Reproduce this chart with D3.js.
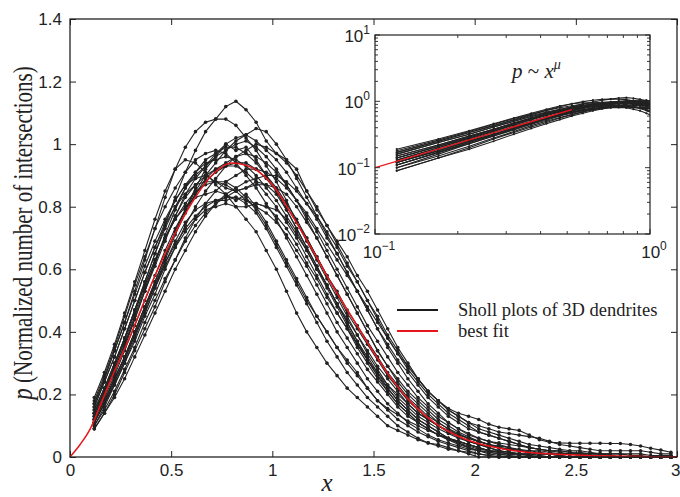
<!DOCTYPE html>
<html>
<head>
<meta charset="utf-8">
<script src="https://cdn.jsdelivr.net/npm/d3@7"></script>
<style>
  body { margin: 0; background: #fff; }
  .num { font-family: "Liberation Sans", Arial, sans-serif; font-size: 17px; fill: #222; }
  .serif { font-family: "Liberation Serif", "Times New Roman", serif; fill: #222; }
</style>
</head>
<body>
<svg id="chart" width="680" height="497"></svg>
<script>
// shared radial grid of the Sholl samples (normalized distance)
const shollX = [0.12, 0.17, 0.22, 0.27, 0.32, 0.37, 0.42, 0.47, 0.52, 0.57,
  0.62, 0.67, 0.72, 0.77, 0.82, 0.87, 0.92, 0.97, 1.02, 1.07,
  1.12, 1.17, 1.22, 1.27, 1.32, 1.37, 1.42, 1.47, 1.52, 1.57,
  1.62, 1.67, 1.72, 1.77, 1.82, 1.87, 1.92, 1.97, 2.02, 2.07,
  2.12, 2.17, 2.22, 2.27, 2.32, 2.37, 2.42, 2.47, 2.52, 2.57,
  2.62, 2.67, 2.72, 2.77, 2.82, 2.87, 2.92, 2.97];

// normalized number of intersections, one row per dendrite
const dendrites = [
  [.15,.22,.30,.38,.47,.56,.65,.74,.83,.91, .98,1.04,1.08,1.12,1.137,1.11,1.07,1.01,.97,.95, .92,.85,.79,.74,.69,.64,.58,.53,.47,.41, .35,.30,.25,.21,.18,.155,.14,.13,.12,.105, .095,.09,.085,.07,.055,.047,.045,.044,.044,.044, .044,.043,.043,.04,.035,.028,.022,.015],
  [.19,.27,.36,.46,.56,.66,.76,.85,.92,.95, .94,.91,.87,.84,.80,.76,.72,.66,.60,.53, .46,.40,.35,.30,.26,.22,.19,.16,.13,.10, .085,.07,.055,.045,.04,.03,.02,.01,0,0, 0,0,0,0,0,0,0,0,0,0, 0,0,0,0,0,0,0,0],
  [.14,.21,.29,.37,.46,.55,.63,.70,.76,.81, .85,.87,.88,.88,.86,.83,.79,.74,.68,.62, .56,.50,.45,.40,.35,.31,.27,.22,.18,.155, .135,.115,.10,.085,.072,.06,.045,.03,.02,.01, .005,0,0,0,0,0,0,0,0,0, 0,0,0,0,0,0,0,0],
  [.17,.25,.34,.43,.53,.63,.73,.83,.92,.99, 1.04,1.07,1.08,1.08,1.06,1.02,.98,.93,.88,.82, .75,.69,.63,.57,.51,.45,.39,.33,.28,.23, .19,.16,.13,.11,.09,.075,.06,.05,.04,.03, .02,.015,.01,.01,.005,0,0,0,0,0, 0,0,0,0,0,0,0,0],
  [.12,.18,.25,.32,.40,.48,.56,.64,.72,.79, .86,.92,.96,1.0,1.02,1.03,1.01,.98,.95,.91, .86,.81,.76,.70,.65,.59,.53,.47,.41,.36, .31,.27,.23,.19,.16,.13,.11,.09,.08,.07, .06,.05,.04,.03,.025,.02,.015,.01,.01,.01, .01,.005,0,0,0,0,0,0],
  [.13,.20,.27,.35,.44,.53,.62,.71,.79,.86, .90,.93,.97,1.0,.98,.99,.95,.90,.85,.79, .73,.67,.61,.55,.49,.43,.37,.31,.26,.22, .18,.15,.12,.10,.08,.06,.05,.04,.03,.02, .015,.01,.01,.005,0,0,0,0,0,0, 0,0,0,0,0,0,0,0],
  [.10,.16,.23,.30,.38,.46,.54,.62,.69,.75, .79,.81,.82,.82,.83,.82,.81,.80,.79,.76, .71,.66,.60,.55,.49,.44,.39,.34,.29,.25, .21,.17,.14,.12,.10,.08,.065,.05,.04,.03, .02,.015,.01,.01,.005,0,0,0,0,0, 0,0,0,0,0,0,0,0],
  [.11,.17,.24,.31,.39,.46,.54,.61,.67,.72, .76,.79,.80,.81,.80,.80,.81,.80,.77,.73, .68,.62,.57,.51,.46,.41,.36,.31,.27,.23, .20,.17,.14,.12,.10,.085,.07,.06,.05,.04, .03,.025,.02,.02,.015,.01,.01,.01,.005,0, 0,0,0,0,0,0,0,0],
  [.16,.24,.32,.41,.50,.59,.67,.75,.82,.87, .91,.94,.95,.96,.95,.93,.90,.86,.82,.77, .72,.66,.60,.54,.48,.42,.36,.31,.26,.21, .17,.14,.11,.09,.07,.055,.045,.035,.025,.02, .015,.01,.01,.005,0,0,0,0,0,0, 0,0,0,0,0,0,0,0],
  [.09,.14,.20,.27,.34,.41,.48,.56,.63,.70, .76,.81,.85,.88,.90,.92,.92,.91,.89,.86, .82,.78,.73,.68,.63,.58,.53,.48,.43,.38, .33,.29,.25,.21,.18,.15,.13,.11,.10,.09, .08,.075,.07,.065,.06,.05,.04,.035,.03,.025, .02,.02,.02,.02,.02,.015,.01,.01],
  [.14,.21,.28,.36,.44,.53,.61,.69,.77,.84, .89,.93,.96,.98,1.0,1.01,.99,.96,.92,.87, .82,.76,.70,.64,.58,.52,.46,.40,.34,.29, .24,.20,.17,.14,.11,.09,.075,.06,.05,.04, .03,.025,.02,.015,.01,.01,.005,0,0,0, 0,0,0,0,0,0,0,0],
  [.18,.26,.35,.45,.55,.64,.73,.80,.86,.91, .95,.97,.98,.97,.94,.90,.86,.81,.76,.70, .64,.58,.52,.46,.40,.35,.30,.25,.21,.17, .14,.11,.09,.07,.055,.045,.035,.025,.02,.015, .01,.005,0,0,0,0,0,0,0,0, 0,0,0,0,0,0,0,0],
  [.10,.15,.21,.28,.35,.43,.50,.57,.63,.69, .74,.78,.81,.83,.85,.86,.87,.87,.86,.84, .80,.75,.70,.64,.58,.52,.46,.40,.34,.29, .25,.21,.18,.15,.12,.10,.08,.065,.05,.04, .035,.03,.025,.02,.02,.015,.01,.01,.01,.005, 0,0,0,0,0,0,0,0],
  [.12,.19,.26,.34,.42,.50,.58,.66,.73,.79, .84,.88,.91,.93,.94,.94,.92,.89,.85,.80, .75,.70,.64,.58,.53,.47,.42,.37,.32,.27, .23,.19,.16,.13,.11,.09,.07,.06,.05,.04, .03,.02,.02,.015,.01,.01,.005,0,0,0, 0,0,0,0,0,0,0,0],
  [.15,.22,.30,.38,.47,.55,.63,.70,.76,.80, .83,.84,.85,.84,.82,.84,.80,.75,.69,.63, .57,.51,.45,.40,.35,.30,.26,.22,.18,.15, .12,.10,.08,.065,.05,.04,.03,.02,.01,.005, 0,0,0,0,0,0,0,0,0,0, 0,0,0,0,0,0,0,0],
  [.11,.17,.23,.30,.37,.45,.52,.60,.67,.74, .80,.85,.89,.93,.96,.98,1.0,.99,.97,.94, .90,.85,.80,.74,.68,.62,.56,.50,.44,.38, .33,.28,.24,.20,.17,.14,.12,.10,.08,.07, .06,.05,.04,.03,.025,.02,.02,.015,.01,.01, .01,.005,0,0,0,0,0,0],
  [.17,.25,.34,.43,.52,.61,.69,.76,.82,.87, .89,.90,.88,.86,.85,.86,.88,.87,.84,.79, .73,.67,.61,.55,.49,.43,.37,.32,.27,.22, .18,.15,.12,.10,.08,.06,.05,.04,.03,.02, .015,.01,.005,0,0,0,0,0,0,0, 0,0,0,0,0,0,0,0],
  [.13,.20,.28,.36,.45,.54,.62,.70,.77,.83, .87,.90,.92,.93,.93,.91,.88,.84,.80,.75, .70,.64,.58,.52,.46,.41,.35,.30,.25,.21, .17,.14,.11,.09,.07,.06,.05,.04,.03,.02, .02,.015,.01,.005,0,0,0,0,0,0, 0,0,0,0,0,0,0,0],
  [.12,.18,.25,.32,.40,.48,.56,.64,.72,.79, .85,.90,.94,.98,1.01,1.03,1.05,1.04,1.0,.95, .89,.83,.77,.71,.65,.59,.53,.47,.41,.35, .30,.25,.21,.17,.14,.11,.09,.07,.06,.05, .04,.03,.02,.015,.01,.01,.005,0,0,0, 0,0,0,0,0,0,0,0],
  [.12,.18,.25,.32,.40,.48,.55,.62,.68,.73, .77,.80,.82,.83,.83,.81,.78,.73,.67,.61, .55,.49,.43,.37,.32,.27,.23,.19,.16,.13, .10,.08,.06,.045,.035,.025,.02,.015,.01,.005, 0,0,0,0,0,0,0,0,0,0, 0,0,0,0,0,0,0,0],
  [.11,.17,.24,.31,.39,.47,.55,.63,.71,.78, .84,.89,.92,.94,.96,.97,.96,.94,.91,.87, .82,.77,.72,.66,.60,.54,.48,.42,.37,.32, .27,.23,.19,.16,.13,.11,.09,.075,.06,.05, .045,.04,.035,.03,.025,.02,.02,.015,.015,.01, .01,.01,.01,.005,.005,0,0,0],
  [.16,.24,.32,.41,.50,.59,.67,.74,.80,.84, .87,.88,.88,.87,.85,.82,.80,.78,.75,.71, .66,.61,.55,.49,.43,.38,.33,.28,.24,.20, .16,.13,.11,.09,.07,.055,.04,.03,.02,.015, .01,.005,0,0,0,0,0,0,0,0, 0,0,0,0,0,0,0,0],
  [.14,.21,.29,.38,.47,.56,.65,.73,.80,.86, .91,.95,.97,.99,.99,.97,.94,.90,.86,.81, .76,.70,.64,.58,.52,.46,.41,.36,.31,.26, .22,.18,.15,.12,.10,.08,.065,.05,.04,.035, .03,.025,.02,.015,.01,.01,.005,0,0,0, 0,0,0,0,0,0,0,0],
  [.09,.14,.19,.25,.32,.39,.46,.53,.60,.66, .72,.77,.81,.84,.86,.88,.89,.90,.90,.88, .85,.81,.77,.72,.67,.61,.56,.50,.45,.39, .34,.29,.25,.21,.18,.15,.13,.11,.09,.08, .07,.06,.05,.04,.035,.03,.025,.02,.02,.015, .01,.01,.01,.01,.01,.005,.005,.005]
];

// best fit curve
const fitX = [0, 0.05, 0.1, 0.15, 0.2, 0.3, 0.4, 0.5, 0.6, 0.7, 0.8, 0.9, 1.0, 1.1, 1.2, 1.3, 1.4, 1.5,
  1.6, 1.7, 1.8, 1.9, 2.0, 2.1, 2.2, 2.3, 2.4, 2.5, 2.6, 2.7, 2.8, 2.9, 3.0];
const fitP = [0, 0.04, 0.09, 0.165, 0.245, 0.39, 0.55, 0.69, 0.81, 0.90, 0.94, 0.925, 0.87, 0.77, 0.66, 0.545, 0.44, 0.335,
  0.24, 0.165, 0.11, 0.072, 0.047, 0.031, 0.02, 0.013, 0.009, 0.006, 0.004, 0.003, 0.002, 0.001, 0.001];

// power-law fit shown in the log-log inset
const insetFitX = [0.1, 0.52];
const insetFitP = [0.1, 0.75];

const xTicks = [0, 0.5, 1, 1.5, 2, 2.5, 3];
const yTicks = [0, 0.2, 0.4, 0.6, 0.8, 1, 1.2, 1.4];
const insetXTicks = [0.1, 1];
const insetYTicks = [0.01, 0.1, 1, 10];
const insetExp = { 0.01: "\u22122", 0.1: "\u22121", 1: "0", 10: "1" };
const legendItems = ["Sholl plots of 3D dendrites", "best fit"];
const legendColors = ["#1a1a1a", "#e8161c"];

const BLACK = "#222";
const RED = "#e8161c";

const svg = d3.select("#chart");
const W = 680, H = 497;
const m = { left: 70, right: 3, top: 19, bottom: 40 };

const x = d3.scaleLinear().domain([0, 3]).range([m.left, W - m.right]);
const y = d3.scaleLinear().domain([0, 1.4]).range([H - m.bottom, m.top]);

const fmt = d3.format("~g");

// ---- main axes (matlab style ticks pointing inward)
const gx = svg.append("g").attr("transform", `translate(0,${y(0)})`)
  .call(d3.axisBottom(x).tickValues(xTicks).tickFormat(fmt).tickSizeInner(-6).tickSizeOuter(0).tickPadding(7));
const gxTop = svg.append("g").attr("transform", `translate(0,${y(1.4)})`)
  .call(d3.axisTop(x).tickValues(xTicks).tickFormat("").tickSizeInner(-6).tickSizeOuter(0));
const gy = svg.append("g").attr("transform", `translate(${x(0)},0)`)
  .call(d3.axisLeft(y).tickValues(yTicks).tickFormat(fmt).tickSizeInner(-6).tickSizeOuter(0).tickPadding(8));
const gyRight = svg.append("g").attr("transform", `translate(${x(3)},0)`)
  .call(d3.axisRight(y).tickValues(yTicks).tickFormat("").tickSizeInner(-6).tickSizeOuter(0));

[gx, gxTop, gy, gyRight].forEach(g => {
  g.select(".domain").remove();
  g.selectAll(".tick line").attr("stroke", BLACK).attr("stroke-width", 1);
  g.selectAll("text").attr("class", "num").attr("font-family", null).attr("font-size", null);
});
// last x label sits against the page edge
gx.selectAll(".tick text").filter(d => d === 3).attr("text-anchor", "end").attr("x", 3);

// ---- sholl curves
const line = d3.line().x(d => x(d[0])).y(d => y(d[1]));
const curves = svg.append("g");
dendrites.forEach(vals => {
  const pts = vals.map((v, i) => [shollX[i], v]);
  curves.append("path").attr("d", line(pts))
    .attr("fill", "none").attr("stroke", BLACK).attr("stroke-width", 1.1);
  curves.selectAll(null).data(pts).join("circle")
    .attr("cx", d => x(d[0])).attr("cy", d => y(d[1])).attr("r", 1.8)
    .attr("fill", BLACK);
});

svg.append("path")
  .attr("d", d3.line().curve(d3.curveMonotoneX).x(d => x(d[0])).y(d => y(d[1]))(fitX.map((v, i) => [v, fitP[i]])))
  .attr("fill", "none").attr("stroke", RED).attr("stroke-width", 1.5);

// frame
svg.append("rect").attr("x", x(0)).attr("y", y(1.4))
  .attr("width", x(3) - x(0)).attr("height", y(0) - y(1.4))
  .attr("fill", "none").attr("stroke", BLACK).attr("stroke-width", 1.3);

// axis titles
svg.append("text").attr("class", "serif")
  .attr("x", x(1.27)).attr("y", 491).attr("text-anchor", "middle")
  .attr("font-size", 25).attr("font-style", "italic").text("x");

const yl = svg.append("text").attr("class", "serif")
  .attr("transform", "translate(32,233) rotate(-90) scale(1,1.25)")
  .attr("text-anchor", "middle").attr("font-size", 21);
yl.append("tspan").attr("font-style", "italic").attr("font-size", 23).text("p");
yl.append("tspan").text(" (Normalized number of intersections)");

// ---- legend
const lg = svg.append("g");
legendItems.forEach((label, i) => {
  const ly = 310 + i * 21;
  lg.append("line").attr("x1", 397).attr("x2", 438).attr("y1", ly).attr("y2", ly)
    .attr("stroke", legendColors[i]).attr("stroke-width", 2.2);
  lg.append("text").attr("class", "serif").attr("x", 458).attr("y", ly + 6)
    .attr("font-size", 18.5).text(label);
});

// ---- inset (log-log)
const ix = d3.scaleLog().domain([0.1, 1]).range([375, 650]);
const iy = d3.scaleLog().domain([0.01, 10]).range([234, 35]);
const inset = svg.append("g");
inset.append("rect").attr("x", 375).attr("y", 35).attr("width", 275).attr("height", 199).attr("fill", "#fff");

svg.append("clipPath").attr("id", "insetClip")
  .append("rect").attr("x", 375).attr("y", 35).attr("width", 275).attr("height", 199);

const ic = inset.append("g").attr("clip-path", "url(#insetClip)");
const iline = d3.line().x(d => ix(d[0])).y(d => iy(d[1]));
dendrites.forEach(vals => {
  const pts = vals.map((v, i) => [shollX[i], v]).filter(d => d[0] < 1.05);
  ic.append("path").attr("d", iline(pts))
    .attr("fill", "none").attr("stroke", BLACK).attr("stroke-width", 1.1);
  ic.selectAll(null).data(pts).join("circle")
    .attr("cx", d => ix(d[0])).attr("cy", d => iy(d[1])).attr("r", 1.1)
    .attr("fill", BLACK);
});
ic.append("path").attr("d", iline(insetFitX.map((v, i) => [v, insetFitP[i]])))
  .attr("stroke", RED).attr("stroke-width", 1.3).attr("fill", "none");

// inset ticks: majors longer, minors shorter, all inward on all four sides
const minorX = ix.ticks();
const minorY = iy.ticks();
const tk = inset.append("g").attr("stroke", BLACK).attr("stroke-width", 0.9);
minorX.forEach(v => {
  const len = insetXTicks.includes(v) ? 5 : 3;
  tk.append("line").attr("x1", ix(v)).attr("x2", ix(v)).attr("y1", 234).attr("y2", 234 - len);
  tk.append("line").attr("x1", ix(v)).attr("x2", ix(v)).attr("y1", 35).attr("y2", 35 + len);
});
minorY.forEach(v => {
  const len = insetYTicks.some(t => Math.abs(t - v) < 1e-9) ? 5 : 3;
  tk.append("line").attr("x1", 375).attr("x2", 375 + len).attr("y1", iy(v)).attr("y2", iy(v));
  tk.append("line").attr("x1", 650).attr("x2", 650 - len).attr("y1", iy(v)).attr("y2", iy(v));
});
inset.append("rect").attr("x", 375).attr("y", 35).attr("width", 275).attr("height", 199)
  .attr("fill", "none").attr("stroke", BLACK).attr("stroke-width", 1.2);

const powLabel = (t, exp) => {
  t.append("tspan").text("10");
  t.append("tspan").attr("dy", -8).attr("font-size", 12).text(exp);
};
insetYTicks.forEach(v => {
  const t = inset.append("text").attr("class", "num").attr("x", 370).attr("y", iy(v) + 7)
    .attr("text-anchor", "end");
  powLabel(t, insetExp[v]);
});
insetXTicks.forEach(v => {
  const t = inset.append("text").attr("class", "num").attr("x", ix(v) + 4).attr("y", 258)
    .attr("text-anchor", "middle");
  powLabel(t, insetExp[v]);
});

const pl = inset.append("text").attr("class", "serif").attr("x", 512).attr("y", 78)
  .attr("font-size", 21).attr("font-style", "italic");
pl.append("tspan").text("p");
pl.append("tspan").attr("font-style", "normal").text(" ~ ");
pl.append("tspan").text("x");
pl.append("tspan").attr("dy", -9).attr("font-size", 14).text("\u03bc");
</script>
</body>
</html>
